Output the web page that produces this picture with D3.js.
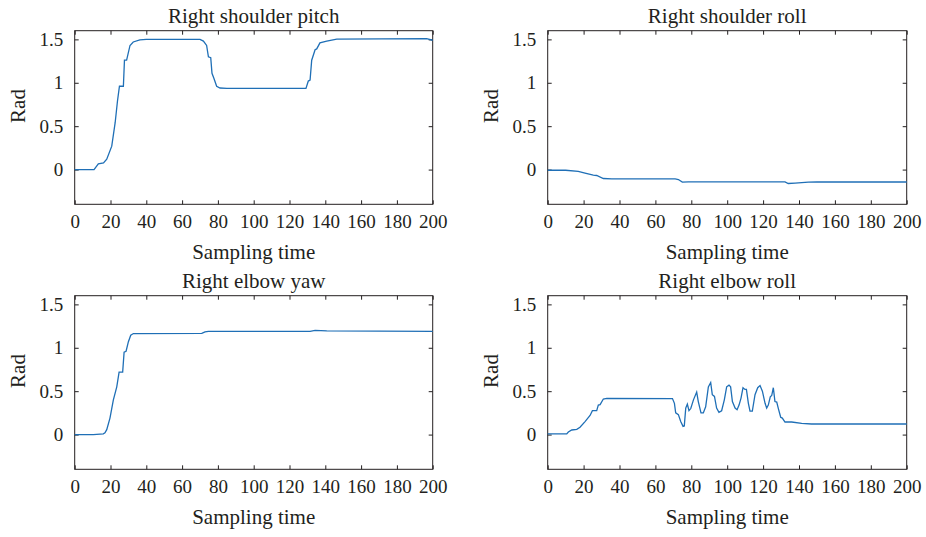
<!DOCTYPE html>
<html>
<head>
<meta charset="utf-8">
<script src="https://cdn.jsdelivr.net/npm/d3@7"></script>
<style>
  body { margin: 0; background: #fff; }
  svg text { font-family: "Liberation Serif", "DejaVu Serif", serif; fill: #231f20; }
</style>
</head>
<body>
<div id="chart"></div>
<script>
var width = 926, height = 537;

// sampling time ticks and rad ticks
var xTicks = [0, 20, 40, 60, 80, 100, 120, 140, 160, 180, 200];
var yTicks = [0, 0.5, 1, 1.5];

// [time, rad]
var shoulderPitch = [
  [0, 0], [10.8, 0], [13.2, 0.065], [16.1, 0.077], [17.9, 0.12], [20.7, 0.27],
  [22.6, 0.54], [23.9, 0.79], [25, 0.96], [27.2, 0.96], [27.8, 1.26], [29, 1.26],
  [30.9, 1.43], [32.7, 1.47], [36.4, 1.495], [40, 1.5], [70, 1.5], [71.9, 1.48],
  [73.7, 1.43], [74.7, 1.3], [76, 1.29], [76.7, 1.11], [77.8, 1.05], [79.3, 0.96],
  [81.2, 0.94], [85, 0.935], [129.2, 0.935], [130.5, 1.02], [131.5, 1.03],
  [132.4, 1.26], [134.3, 1.38], [135.2, 1.39], [137, 1.46], [140.8, 1.48],
  [146.4, 1.504], [196.6, 1.508], [200, 1.49]
];
var shoulderRoll = [
  [0, -0.008], [10, -0.008], [17, -0.02], [20.8, -0.04], [25.4, -0.065], [27.3, -0.068],
  [31, -0.103], [35.7, -0.107], [71, -0.107], [72.8, -0.115], [75, -0.145], [78.4, -0.141],
  [132.2, -0.141], [134, -0.16], [137.8, -0.156], [145.2, -0.145], [150, -0.143], [200, -0.143]
];
var elbowYaw = [
  [0, 0], [10.4, 0], [16, 0.008], [16.9, 0.02], [17.9, 0.057], [19.7, 0.19],
  [21.6, 0.4], [23.5, 0.55], [24.8, 0.72], [26.8, 0.72], [27.6, 0.95], [28.7, 0.96],
  [30, 1.07], [31.3, 1.145], [32.8, 1.164], [71, 1.165], [72.8, 1.183], [74.7, 1.19],
  [131.5, 1.188], [134.3, 1.2], [140.8, 1.195], [200, 1.19]
];
var elbowRoll = [
  [0, 0.008], [10.6, 0.008], [11.5, 0.03], [13.4, 0.053], [16.2, 0.06], [18, 0.084],
  [20.8, 0.15], [23.6, 0.22], [24.9, 0.275], [27.3, 0.275], [28.2, 0.34], [29.2, 0.345],
  [31, 0.41], [32.9, 0.416], [69.5, 0.415], [70.6, 0.36], [71.3, 0.25], [72.8, 0.23],
  [74.1, 0.15], [75.4, 0.095], [76.1, 0.1], [76.9, 0.305], [77.8, 0.35], [78.7, 0.275],
  [79.7, 0.3], [81.2, 0.4], [83, 0.49], [83.9, 0.38], [85.4, 0.25], [86.7, 0.25],
  [88, 0.32], [89.5, 0.55], [90.8, 0.6], [91.7, 0.46], [92.9, 0.44], [94.1, 0.305],
  [95.4, 0.256], [96.9, 0.275], [98.4, 0.4], [99.7, 0.55], [101, 0.57], [101.9, 0.55],
  [102.9, 0.38], [104.4, 0.305], [105.5, 0.286], [106.6, 0.34], [107.7, 0.42],
  [108.8, 0.54], [109.9, 0.52], [110.7, 0.52], [111.8, 0.36], [112.7, 0.27], [114, 0.27],
  [115.5, 0.46], [117, 0.54], [118.3, 0.565], [119.6, 0.5], [121.1, 0.36], [122, 0.305],
  [122.9, 0.34], [124, 0.435], [124.8, 0.45], [125.7, 0.54], [126.6, 0.38], [127.6, 0.375],
  [128.5, 0.3], [129.8, 0.2], [130.7, 0.19], [132.2, 0.145], [135.9, 0.145],
  [141.5, 0.13], [147, 0.122], [200, 0.122]
];

var titles = ["Right shoulder pitch", "Right shoulder roll", "Right elbow yaw", "Right elbow roll"];
var series = [shoulderPitch, shoulderRoll, elbowYaw, elbowRoll];

var svg = d3.select("#chart").append("svg").attr("width", width).attr("height", height);

// plot boxes: left, right, top, bottom
var boxes = [
  [74.7, 432.7, 30.7, 204.3],
  [547.7, 906.7, 30.7, 204.3],
  [74.7, 432.7, 295.7, 469.3],
  [547.7, 906.7, 295.7, 469.3]
];

var tick = 4;

boxes.forEach(function(b, i) {
  var x = d3.scaleLinear().domain([0, 200]).range([b[0], b[1]]);
  var y = d3.scaleLinear().domain([-0.4, 1.6]).range([b[3], b[2]]);
  var g = svg.append("g");

  // tick marks on all four sides, pointing in
  g.append("g").attr("transform", "translate(0," + b[3] + ")")
    .call(d3.axisBottom(x).tickValues(xTicks).tickSize(-tick).tickPadding(10).tickFormat(d3.format("d")))
    .call(function(a) {
      a.select(".domain").remove();
      a.selectAll("text").style("font-size", "19px").attr("fill", "#231f20");
    });
  g.append("g").attr("transform", "translate(0," + b[2] + ")")
    .call(d3.axisTop(x).tickValues(xTicks).tickSize(-tick).tickFormat(""))
    .call(function(a) { a.select(".domain").remove(); });
  g.append("g").attr("transform", "translate(" + b[0] + ",0)")
    .call(d3.axisLeft(y).tickValues(yTicks).tickSize(-tick).tickPadding(11.5).tickFormat(function(d) { return d; }))
    .call(function(a) {
      a.select(".domain").remove();
      a.selectAll("text").style("font-size", "19px").attr("fill", "#231f20");
    });
  g.append("g").attr("transform", "translate(" + b[1] + ",0)")
    .call(d3.axisRight(y).tickValues(yTicks).tickSize(-tick).tickFormat(""))
    .call(function(a) { a.select(".domain").remove(); });
  g.selectAll(".tick line").attr("stroke", "#231f20");

  g.append("rect")
    .attr("x", b[0]).attr("y", b[2])
    .attr("width", b[1] - b[0]).attr("height", b[3] - b[2])
    .attr("fill", "none").attr("stroke", "#231f20").attr("stroke-width", 1);

  g.append("path")
    .datum(series[i])
    .attr("fill", "none")
    .attr("stroke", "#1f6fb6")
    .attr("stroke-width", 1.3)
    .attr("d", d3.line().x(function(d) { return x(d[0]); }).y(function(d) { return y(d[1]); }));

  g.append("text")
    .attr("x", (b[0] + b[1]) / 2).attr("y", b[2] - 8)
    .attr("text-anchor", "middle").style("font-size", "21px")
    .text(titles[i]);

  g.append("text")
    .attr("x", (b[0] + b[1]) / 2).attr("y", b[3] + 55)
    .attr("text-anchor", "middle").style("font-size", "21px")
    .text("Sampling time");

  g.append("text")
    .attr("transform", "translate(" + (b[0] - 49.7) + "," + ((b[2] + b[3]) / 2 - 11.5) + ") rotate(-90)")
    .attr("text-anchor", "middle").style("font-size", "21px")
    .text("Rad");
});
</script>
</body>
</html>
